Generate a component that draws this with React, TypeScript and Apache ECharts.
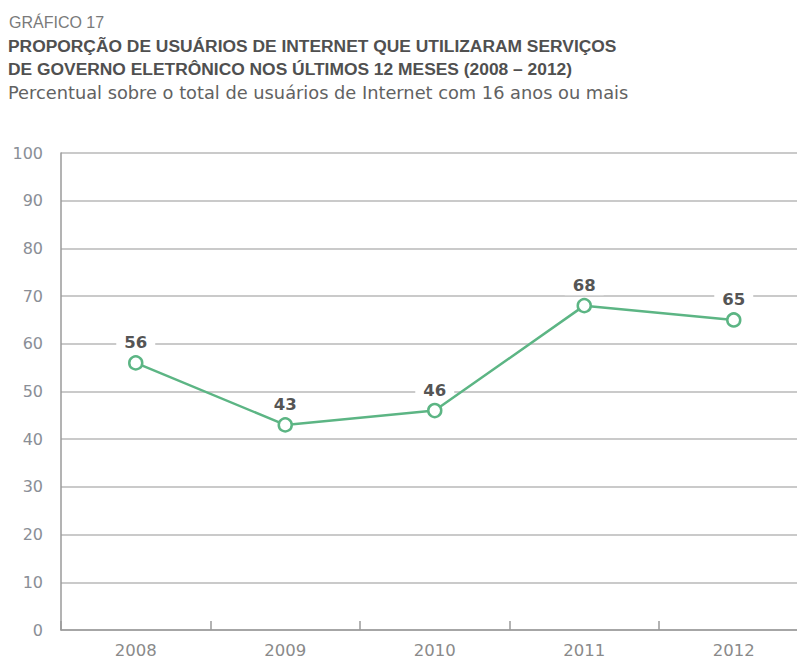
import React, { useEffect, useRef } from "react";
import * as echarts from "echarts";

const years = ["2008", "2009", "2010", "2011", "2012"];
const values = [56, 43, 46, 68, 65];
const yTicks = { min: 0, max: 100, interval: 10 };

const kicker = "GRÁFICO 17";
const titleLines = [
  "PROPORÇÃO DE USUÁRIOS DE INTERNET QUE UTILIZARAM SERVIÇOS",
  "DE GOVERNO ELETRÔNICO NOS ÚLTIMOS 12 MESES (2008 – 2012)",
];
const subtitle = "Percentual sobre o total de usuários de Internet com 16 anos ou mais";

export default function App() {
  const ref = useRef<HTMLDivElement>(null);
  useEffect(() => {
    if (!ref.current) return;
    const chart = echarts.init(ref.current, undefined, { renderer: "svg" });
    const wide = "'DejaVu Sans', Verdana, sans-serif";
    const lib = "'Liberation Sans', Arial, sans-serif";
    const green = "#5cb584";
    chart.setOption({
      animation: false,
      backgroundColor: "#ffffff",
      textStyle: { fontFamily: wide },
      graphic: [
        {
          type: "text",
          left: 9,
          top: 14,
          style: { text: kicker, fill: "#7a7a7a", font: `16px ${lib}` },
        },
        {
          type: "text",
          left: 8,
          top: 37,
          style: { text: titleLines[0], fill: "#505050", font: `bold 17.4px ${lib}` },
        },
        {
          type: "text",
          left: 8,
          top: 60,
          style: { text: titleLines[1], fill: "#505050", font: `bold 17.4px ${lib}` },
        },
        {
          type: "text",
          left: 8,
          top: 83,
          style: { text: subtitle, fill: "#626262", font: `17.8px ${wide}` },
        },
      ],
      grid: { left: 61, top: 153, width: 747.5, height: 477, containLabel: false },
      xAxis: {
        type: "category",
        data: years,
        boundaryGap: true,
        axisLine: { show: true, lineStyle: { color: "#9a9a9a", width: 1.5 } },
        axisTick: {
          show: true,
          inside: true,
          length: 9,
          interval: 0,
          lineStyle: { color: "#9a9a9a", width: 1.5 },
        },
        axisLabel: { color: "#8a8a8a", fontSize: 16.5, margin: 12, fontFamily: wide },
        splitLine: { show: false },
      },
      yAxis: {
        type: "value",
        min: yTicks.min,
        max: yTicks.max,
        interval: yTicks.interval,
        axisLine: { show: true, lineStyle: { color: "#9a9a9a", width: 1.5 } },
        axisTick: { show: false },
        axisLabel: { color: "#8a8e96", fontSize: 16, margin: 18, fontFamily: wide },
        splitLine: { show: true, lineStyle: { color: "#b8b8b8", width: 1.5 } },
      },
      series: [
        {
          type: "scatter",
          data: values,
          symbol: "circle",
          symbolSize: 13,
          itemStyle: { color: "rgba(255,255,255,0)", opacity: 1 },
          label: {
            show: true,
            position: "top",
            distance: 4,
            color: "#555555",
            opacity: 1,
            fontSize: 16.5,
            fontWeight: "bold",
            fontFamily: wide,
            backgroundColor: "#ffffff",
            padding: [1, 8],
          },
          silent: true,
          z: 2,
        },
        {
          type: "line",
          data: values,
          symbol: "circle",
          symbolSize: 13,
          showAllSymbol: true,
          lineStyle: { color: green, width: 2.5 },
          itemStyle: { color: "#ffffff", borderColor: green, borderWidth: 2.5 },
          label: { show: false },
          z: 3,
        },
      ],
    });
    return () => chart.dispose();
  }, []);
  return (
    <div style={{ position: "fixed", left: 0, top: 0, width: 797, height: 662, overflow: "hidden" }}>
      <div ref={ref} style={{ width: 830, height: 662 }} />
    </div>
  );
}
